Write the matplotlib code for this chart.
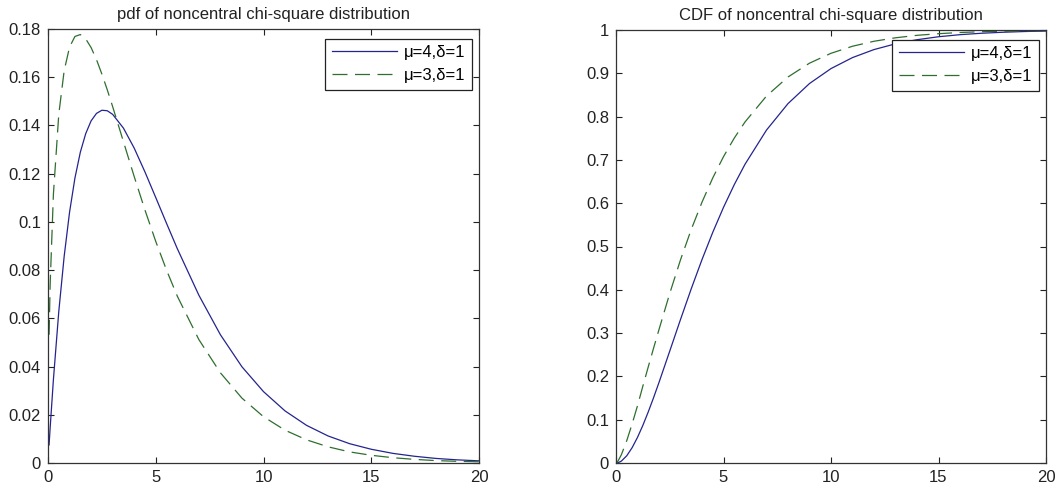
import numpy as np
import matplotlib
matplotlib.use("Agg")
import matplotlib.pyplot as plt

plt.rcParams['font.family'] = ['Liberation Sans', 'DejaVu Sans']

# values
x_pdf = [0.05, 0.1, 0.25, 0.5, 0.75, 1, 1.25, 1.5, 1.75, 2, 2.25, 2.5, 2.75, 3, 3.5, 4, 4.5,
         5, 5.5, 6, 7, 8, 9, 10, 11, 12, 13, 14, 15, 16, 17, 18, 19, 20]
pdf_mu4 = [0.0075, 0.0146, 0.0345, 0.0628, 0.0857, 0.1040, 0.1182, 0.1289, 0.1366, 0.1419,
           0.1450, 0.1463, 0.1461, 0.1446, 0.1389, 0.1306, 0.1207, 0.1101, 0.0994, 0.0889,
           0.0696, 0.0532, 0.0399, 0.0296, 0.0216, 0.0156, 0.0112, 0.0080, 0.0057, 0.0040,
           0.0028, 0.0019, 0.0013, 0.0009]
pdf_mu3 = [0.0532, 0.0740, 0.1113, 0.1446, 0.1627, 0.1725, 0.1769, 0.1777, 0.1759, 0.1723,
           0.1673, 0.1613, 0.1548, 0.1478, 0.1333, 0.1188, 0.1049, 0.0919, 0.0800, 0.0692,
           0.0512, 0.0374, 0.0269, 0.0192, 0.0136, 0.0096, 0.0067, 0.0046, 0.0032, 0.0022,
           0.0015, 0.0010, 0.0007, 0.0005]

x_cdf = [0.05, 0.1, 0.25, 0.5, 0.75, 1, 1.25, 1.5, 1.75, 2, 2.5, 3, 3.5, 4, 4.5,
         5, 5.5, 6, 7, 8, 9, 10, 11, 12, 13, 14, 15, 16, 17, 18, 19, 20]
cdf_mu4 = [0.0002, 0.0007, 0.0044, 0.0167, 0.0354, 0.0592, 0.0870, 0.1180, 0.1512, 0.1861,
           0.2585, 0.3314, 0.4024, 0.4698, 0.5327, 0.5904, 0.6428, 0.6899, 0.7689, 0.8300,
           0.8764, 0.9109, 0.9363, 0.9548, 0.9681, 0.9776, 0.9844, 0.9892, 0.9925, 0.9948,
           0.9965, 0.9976]
cdf_mu3 = [0.0018, 0.0050, 0.0192, 0.0516, 0.0902, 0.1323, 0.1777, 0.2220, 0.2657, 0.3082,
           0.3918, 0.4692, 0.5394, 0.6024, 0.6583, 0.7075, 0.7503, 0.7876, 0.8475, 0.8915,
           0.9234, 0.9462, 0.9625, 0.9740, 0.9820, 0.9877, 0.9915, 0.9942, 0.9960, 0.9972,
           0.9981, 0.9987]

labels = ['μ=4,δ=1', 'μ=3,δ=1']
xticks = [0, 5, 10, 15, 20]
yticks_pdf = [0, 0.02, 0.04, 0.06, 0.08, 0.1, 0.12, 0.14, 0.16, 0.18]
yticks_cdf = [0, 0.1, 0.2, 0.3, 0.4, 0.5, 0.6, 0.7, 0.8, 0.9, 1]

blue = '#24248f'
green = '#2f6e2f'
fs = 12

fig = plt.figure(figsize=(10.61, 4.96), dpi=100)
ax1 = fig.add_axes([48/1061, 33/496, 431/1061, 434/496])
ax2 = fig.add_axes([616/1061, 33/496, 430/1061, 433/496])


def style(ax, yticks, ylim, title):
    ax.set_xlim(0, 20)
    ax.set_ylim(*ylim)
    ax.set_xticks(xticks)
    ax.set_xticklabels([str(t) for t in xticks])
    ax.set_yticks(yticks)
    ax.set_yticklabels(['%g' % t for t in yticks])
    ax.tick_params(direction='in', top=True, right=True, length=4, width=0.8,
                   labelsize=fs, colors='#222222', pad=5)
    for s in ax.spines.values():
        s.set_linewidth(0.9)
        s.set_color('#333333')
    ax.set_title(title, fontsize=fs, pad=7, color='#222222')
    leg = ax.legend(loc='upper right', bbox_to_anchor=(0.984, 0.978), borderaxespad=0,
                    fontsize=fs, handlelength=3.9, handletextpad=0.45, labelspacing=0.5,
                    borderpad=0.38, fancybox=False, framealpha=1, edgecolor='#222222')
    leg.get_frame().set_linewidth(0.9)


ax1.plot(x_pdf, pdf_mu4, color=blue, lw=0.9, label=labels[0])
ax1.plot(x_pdf, pdf_mu3, color=green, lw=0.9, dashes=(12, 6), label=labels[1])
style(ax1, yticks_pdf, (0, 0.18), 'pdf of noncentral chi-square distribution')

ax2.plot(x_cdf, cdf_mu4, color=blue, lw=0.9, label=labels[0])
ax2.plot(x_cdf, cdf_mu3, color=green, lw=0.9, dashes=(12, 6), label=labels[1])
style(ax2, yticks_cdf, (0, 1), 'CDF of noncentral chi-square distribution')

fig.savefig('out.png', dpi=100)
